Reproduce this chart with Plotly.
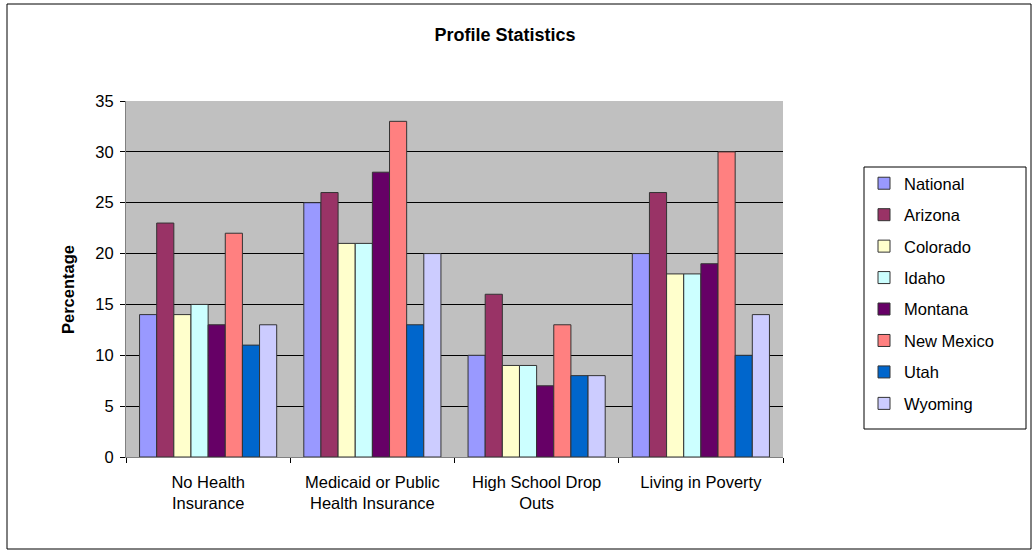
import plotly.graph_objects as go

categories = ["No Health<br>Insurance", "Medicaid or Public<br>Health Insurance",
              "High School Drop<br>Outs", "Living in Poverty"]
states = ["National", "Arizona", "Colorado", "Idaho", "Montana", "New Mexico", "Utah", "Wyoming"]
national = [14, 25, 10, 20]
arizona = [23, 26, 16, 26]
colorado = [14, 21, 9, 18]
idaho = [15, 21, 9, 18]
montana = [13, 28, 7, 19]
new_mexico = [22, 33, 13, 30]
utah = [11, 13, 8, 10]
wyoming = [13, 20, 8, 14]
y_ticks = [0, 5, 10, 15, 20, 25, 30, 35]

series = [national, arizona, colorado, idaho, montana, new_mexico, utah, wyoming]
colors = ["#9999FF", "#993366", "#FFFFCC", "#CCFFFF", "#660066", "#FF8080", "#0066CC", "#CCCCFF"]

W, H = 1032, 550
L, R, T, B = 126, 783, 101, 457
font = "Liberation Sans, Arial, sans-serif"
fs = 16.5

fig = go.Figure()
for name, vals, col in zip(states, series, colors):
    fig.add_trace(go.Bar(
        x=categories, y=vals, name=name, legendgroup=name,
        marker=dict(color=col, line=dict(color="#333333", width=1)),
    ))

def px_x(p):
    return (p - L) / (R - L)

def px_y(p):
    return (B - p) / (B - T)

fig.update_layout(
    width=W, height=H,
    margin=dict(l=L, r=W - R, t=T, b=H - B),
    paper_bgcolor="white",
    plot_bgcolor="#C0C0C0",
    barmode="group",
    bargap=0.165,
    bargroupgap=0,
    font=dict(family=font, size=fs, color="black"),
    title=dict(text="<b>Profile Statistics</b>", x=px_x(505), xref="paper",
               xanchor="center", y=1 - 35 / H, yanchor="middle",
               font=dict(size=18, family=font)),
    xaxis=dict(
        type="category", tickson="boundaries", ticks="outside", ticklen=5,
        tickcolor="black", showline=True, linecolor="#808080", linewidth=1,
        showgrid=False, tickfont=dict(size=fs), ticklabelstandoff=10,
    ),
    yaxis=dict(
        range=[0, 35], tickvals=y_ticks, ticks="outside", ticklen=5,
        tickcolor="black", showline=True, linecolor="#808080", linewidth=1,
        showgrid=True, gridcolor="black", gridwidth=1, zeroline=False,
        tickfont=dict(size=fs), ticklabelstandoff=3,
    ),
    legend=dict(
        x=px_x(864), y=px_y(166), xanchor="left", yanchor="top",
        borderwidth=0, bgcolor="rgba(0,0,0,0)",
        font=dict(size=fs), tracegroupgap=7, itemwidth=30,
    ),
    annotations=[
        dict(text="<b>Percentage</b>", textangle=-90, showarrow=False,
             xref="paper", yref="paper", x=px_x(68), y=px_y(290),
             xanchor="center", yanchor="middle", font=dict(size=fs)),
    ],
    shapes=[
        dict(type="rect", xref="paper", yref="paper",
             x0=px_x(7), x1=px_x(1031), y0=px_y(549), y1=px_y(4),
             line=dict(color="black", width=1), layer="below"),
        dict(type="rect", xref="paper", yref="paper",
             x0=px_x(864), x1=px_x(1026), y0=px_y(429), y1=px_y(167),
             line=dict(color="black", width=1), fillcolor="white", layer="below"),
    ],
)

fig.write_html("out.html")
